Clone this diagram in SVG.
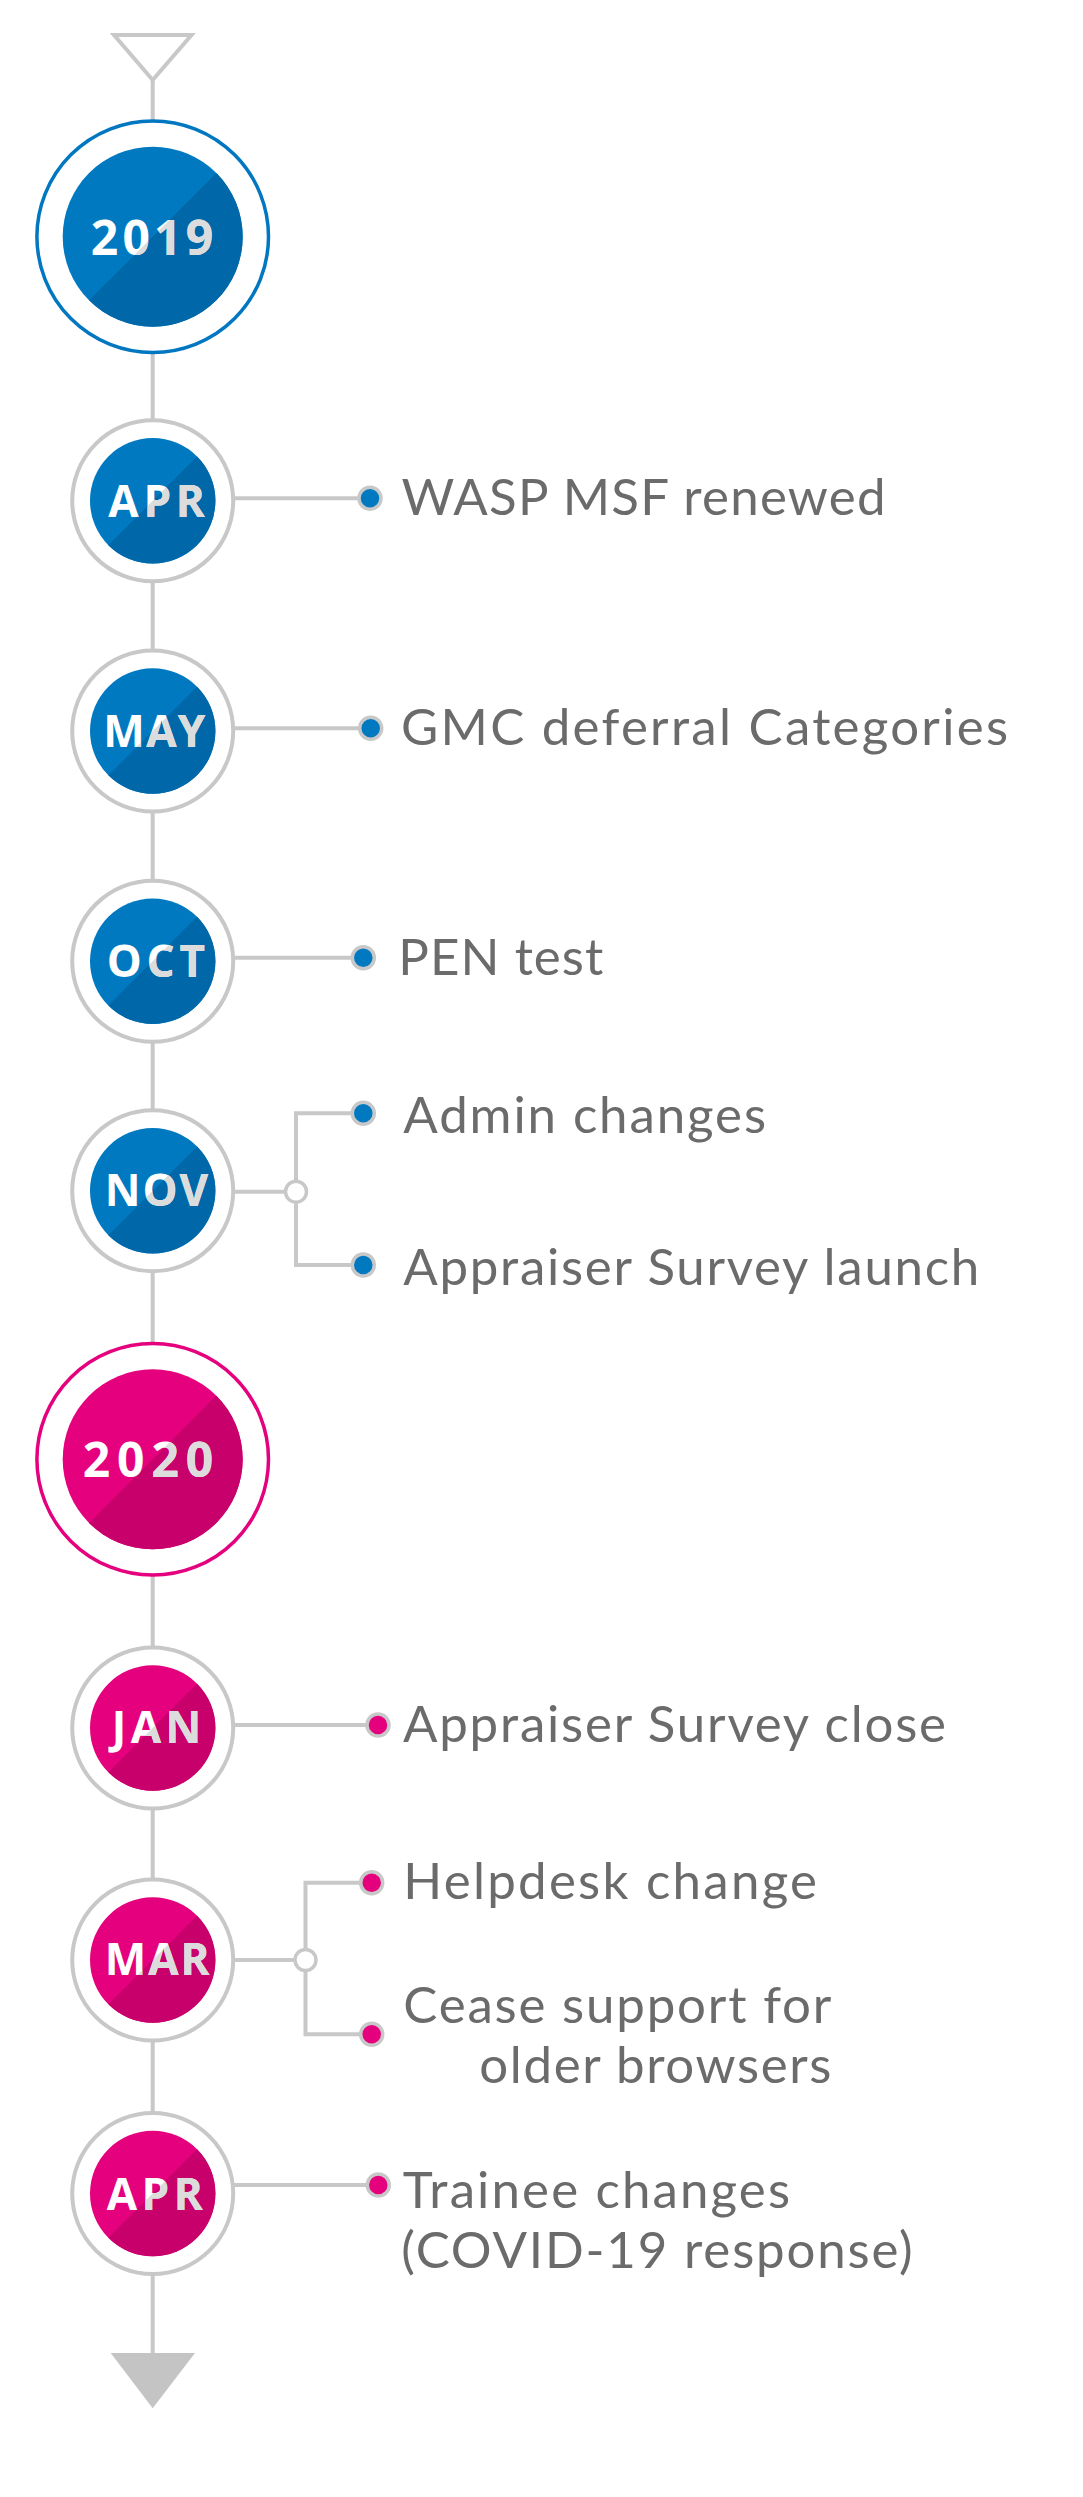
<svg xmlns="http://www.w3.org/2000/svg" width="1083" height="2497" viewBox="0 0 1083 2497">
<style>
.line{stroke:#c8c8c8;stroke-width:4;fill:none}
.junc{fill:#fff;stroke:#c8c8c8;stroke-width:3.5}
.ring{fill:#fff;stroke:#c8c8c8;stroke-width:4}
.ringB{fill:#fff;stroke:#0077c0;stroke-width:3.5}
.ringP{fill:#fff;stroke:#e5007e;stroke-width:3.5}
.lb{fill:#0079c1}.db{fill:#0068a9}
.lp{fill:#e5007e}.dp{fill:#c8006b}
.dotB{fill:#0079c1;stroke:#c8c8c8;stroke-width:3.5}
.dotP{fill:#e5007e;stroke:#c8c8c8;stroke-width:3.5}
.yr{font-family:"Open Sans","Liberation Sans",sans-serif;font-weight:700;font-size:48px;fill:#fff}
.mo{font-family:"Open Sans","Liberation Sans",sans-serif;font-weight:700;font-size:44px;fill:#fff}
.sh{fill:#dcdcdc;clip-path:url(#lr)}
.desc{font-family:Lato,"Liberation Sans",sans-serif;font-size:51px;fill:#6b6b6b}
</style>
<defs>
<clipPath id="lr" clipPathUnits="userSpaceOnUse"><path d="M300,-300 L-300,300 L300,300 Z"/></clipPath>
<path id="halfY" d="M63.64,-63.64 A90,90 0 0 1 -63.64,63.64 Z"/>
<path id="halfM" d="M44.34,-44.34 A62.7,62.7 0 0 1 -44.34,44.34 Z"/>
</defs>
<rect width="1083" height="2497" fill="#fff"/>

<g id="connectors">
<polygon points="114,35 191.5,35 152.7,80" class="line"/>
<line x1="152.7" y1="80" x2="152.7" y2="2355" class="line"/>
<polygon points="110.7,2353 195,2353 152.7,2408.3" fill="#c4c4c4"/>
<line x1="233" y1="498.3" x2="370" y2="498.3" class="line"/>
<line x1="233" y1="728.3" x2="370.7" y2="728.3" class="line"/>
<line x1="233" y1="957.7" x2="363.3" y2="957.7" class="line"/>
<line x1="233" y1="1191.7" x2="296" y2="1191.7" class="line"/>
<polyline points="363.3,1113.3 296,1113.3 296,1265 363.3,1265" class="line"/>
<circle cx="296" cy="1191.7" r="10.5" class="junc"/>
<line x1="233" y1="1725" x2="378" y2="1725" class="line"/>
<line x1="233" y1="1960" x2="305.5" y2="1960" class="line"/>
<polyline points="371.7,1882.7 305.5,1882.7 305.5,2034.3 371.7,2034.3" class="line"/>
<circle cx="305.5" cy="1960" r="10.5" class="junc"/>
<line x1="233" y1="2185" x2="378.3" y2="2185" class="line"/>
</g>

<g id="y2019" transform="translate(152.7,236.7)">
<circle r="115.8" class="ringB"/>
<circle r="90" class="lb"/>
<use href="#halfY" class="db"/>
<text x="-62" y="18.3" class="yr" textLength="122.6">2019</text>
<text x="-62" y="18.3" class="yr sh" textLength="122.6">2019</text>
</g>

<g id="apr2019" transform="translate(152.7,500.8)">
<circle r="80.5" class="ring"/>
<circle r="62.7" class="lb"/>
<use href="#halfM" class="db"/>
<text x="-44.4" y="15.9" class="mo" textLength="96.5">APR</text>
<text x="-44.4" y="15.9" class="mo sh" textLength="96.5">APR</text>
</g>

<g id="may2019" transform="translate(152.7,731)">
<circle r="80.5" class="ring"/>
<circle r="62.7" class="lb"/>
<use href="#halfM" class="db"/>
<text x="-49.4" y="16.3" class="mo" textLength="102">MAY</text>
<text x="-49.4" y="16.3" class="mo sh" textLength="102">MAY</text>
</g>

<g id="oct2019" transform="translate(152.7,961.2)">
<circle r="80.5" class="ring"/>
<circle r="62.7" class="lb"/>
<use href="#halfM" class="db"/>
<text x="-46" y="15.5" class="mo" textLength="98.3">OCT</text>
<text x="-46" y="15.5" class="mo sh" textLength="98.3">OCT</text>
</g>

<g id="nov2019" transform="translate(152.7,1190.8)">
<circle r="80.5" class="ring"/>
<circle r="62.7" class="lb"/>
<use href="#halfM" class="db"/>
<text x="-47.9" y="15.2" class="mo" textLength="103.4">NOV</text>
<text x="-47.9" y="15.2" class="mo sh" textLength="103.4">NOV</text>
</g>

<g id="y2020" transform="translate(152.7,1459.3)">
<circle r="115.8" class="ringP"/>
<circle r="90" class="lp"/>
<use href="#halfY" class="dp"/>
<text x="-70" y="17.4" class="yr" textLength="130.6">2020</text>
<text x="-70" y="17.4" class="yr sh" textLength="130.6">2020</text>
</g>

<g id="jan2020" transform="translate(152.7,1728)">
<circle r="80.5" class="ring"/>
<circle r="62.7" class="lp"/>
<use href="#halfM" class="dp"/>
<text x="-40.9" y="15.3" class="mo" textLength="89.5">JAN</text>
<text x="-40.9" y="15.3" class="mo sh" textLength="89.5">JAN</text>
</g>

<g id="mar2020" transform="translate(152.7,1960)">
<circle r="80.5" class="ring"/>
<circle r="62.7" class="lp"/>
<use href="#halfM" class="dp"/>
<text x="-47.9" y="15" class="mo" textLength="104.8">MAR</text>
<text x="-47.9" y="15" class="mo sh" textLength="104.8">MAR</text>
</g>

<g id="apr2020" transform="translate(152.7,2193.5)">
<circle r="80.5" class="ring"/>
<circle r="62.7" class="lp"/>
<use href="#halfM" class="dp"/>
<text x="-46" y="16.5" class="mo" textLength="96">APR</text>
<text x="-46" y="16.5" class="mo sh" textLength="96">APR</text>
</g>

<g id="ev-wasp">
<circle cx="370" cy="498.3" r="11" class="dotB"/>
<text x="401.5" y="515" class="desc" textLength="484">WASP MSF renewed</text>
</g>
<g id="ev-gmc">
<circle cx="370.7" cy="728.3" r="11" class="dotB"/>
<text x="401" y="745" class="desc" textLength="607">GMC deferral Categories</text>
</g>
<g id="ev-pen">
<circle cx="363.3" cy="957.7" r="11" class="dotB"/>
<text x="398.3" y="975" class="desc" textLength="205">PEN test</text>
</g>
<g id="ev-admin">
<circle cx="363.3" cy="1113.3" r="11" class="dotB"/>
<text x="403.3" y="1133.3" class="desc" textLength="362.7">Admin changes</text>
</g>
<g id="ev-survey-launch">
<circle cx="363.3" cy="1265" r="11" class="dotB"/>
<text x="403.3" y="1285" class="desc" textLength="576">Appraiser Survey launch</text>
</g>
<g id="ev-survey-close">
<circle cx="378" cy="1725" r="11" class="dotP"/>
<text x="403" y="1742" class="desc" textLength="543">Appraiser Survey close</text>
</g>
<g id="ev-helpdesk">
<circle cx="371.7" cy="1882.7" r="11" class="dotP"/>
<text x="403.3" y="1899.3" class="desc" textLength="413.7">Helpdesk change</text>
</g>
<g id="ev-browsers">
<circle cx="371.7" cy="2034.3" r="11" class="dotP"/>
<text x="403.3" y="2022.7" class="desc" textLength="428">Cease support for</text>
<text x="479.3" y="2082.7" class="desc" textLength="352">older browsers</text>
</g>
<g id="ev-trainee">
<circle cx="378.3" cy="2185" r="11" class="dotP"/>
<text x="402.7" y="2208" class="desc" textLength="387.3">Trainee changes</text>
<text x="401.3" y="2268" class="desc" textLength="511.3">(COVID-19 response)</text>
</g>
</svg>
